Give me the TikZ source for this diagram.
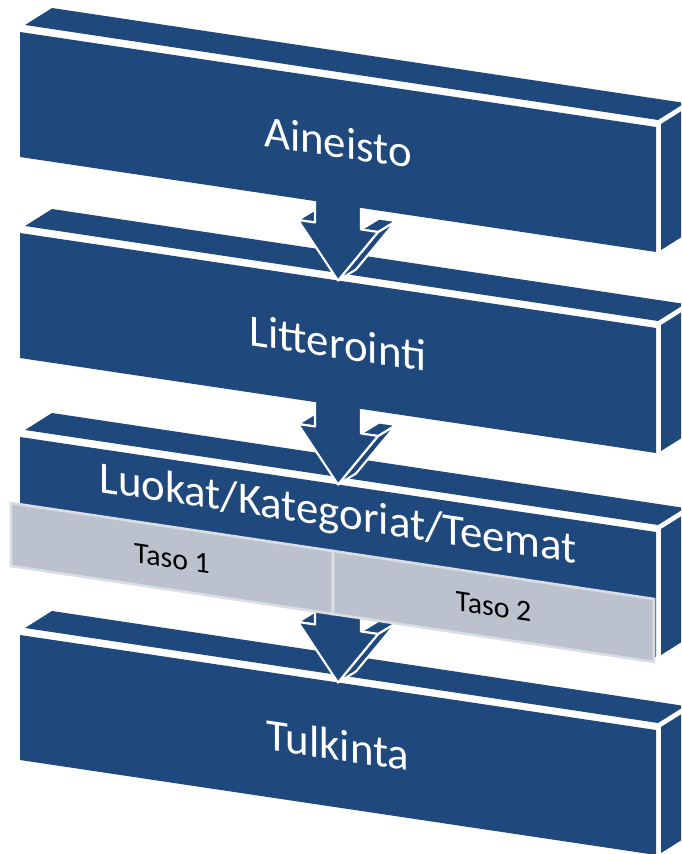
\documentclass[tikz,border=0pt]{standalone}
\usepackage{fontspec}
\setmainfont{Carlito}
\usetikzlibrary{calc}
\definecolor{slabblue}{HTML}{1F497D}
\definecolor{tasofill}{HTML}{BCC2CD}
\definecolor{tasoedge}{HTML}{DADDE3}

% one slab: #1 = how far down, #2 = its name
\newcommand{\slabat}[2]{%
  \begin{scope}[shift={(0,#1)}]
    \fill[slabface] (52,-24) -- (685,71) -- (658,88) -- (25,-7) -- cycle;
    \fill[slabface] (661,92) -- (688,75) -- (688,201) -- (661,218) -- cycle;
    \fill[slabface] (20,0) -- (656,95) -- (656,220) -- (20,125) -- cycle;
    \coordinate (#2) at (338,110);
    \coordinate (#2-top) at (338,47.5);
  \end{scope}}

% block arrow whose tip sits on #1
\newcommand{\arrowto}[1]{%
  \begin{scope}[shift={(#1)}]
    \filldraw[arrowface] (40,-48.5) -- (0,0) -- (18,-11) -- (58,-59.5) -- cycle;
    \filldraw[arrowface] (23,-51) -- (40,-48.5) -- (58,-59.5) -- (41,-62) -- cycle;
    \filldraw[arrowface] (-40,-60.5) -- (-23,-58) -- (-5,-69) -- (-22,-71.5) -- cycle;
    \filldraw[arrowface] (-23,-100) -- (-23,-58) -- (-40,-60.5) -- (0,0)
      -- (40,-48.5) -- (23,-51) -- (23,-100) -- cycle;
  \end{scope}}

\begin{document}
\begin{tikzpicture}[x=0.02cm,y=-0.02cm,
  slabface/.style={fill=slabblue},
  arrowface/.style={fill=slabblue,draw=white,line width=1.2pt,line join=round},
  tasobox/.style={fill=tasofill,draw=tasoedge,line width=1.5pt},
  slablabel/.style={text=white,font=\fontsize{25.5}{30}\selectfont,yslant=-0.1494,inner sep=0pt},
  tasolabel/.style={text=black,font=\fontsize{17}{20}\selectfont,yslant=-0.1494,inner sep=0pt}]
  \clip (0,0) rectangle (681,854);

  \slabat{635}{tulkinta}
  \arrowto{tulkinta-top}
  \slabat{437}{luokat}
  \arrowto{luokat-top}
  \slabat{233}{litterointi}
  \arrowto{litterointi-top}
  \slabat{32}{aineisto}

  % the two levels on the third slab
  \begin{scope}[shift={(0,437)}]
    \filldraw[tasobox] (11,66) -- (333,114) -- (333,177) -- (11,129) -- cycle;
    \filldraw[tasobox] (333,114) -- (654,162) -- (654,225) -- (333,177) -- cycle;
    \node[tasolabel] (taso1) at (172,121.5) {Taso 1};
    \node[tasolabel] (taso2) at (493.5,169.5) {Taso 2};
  \end{scope}

  \node[slablabel] (aineisto-lbl) at (aineisto) {Aineisto};
  \node[slablabel] (litterointi-lbl) at (litterointi) {Litterointi};
  \node[slablabel] (luokat-lbl) at ($(luokat)+(0,-31)$) {Luokat/Kategoriat/Teemat};
  \node[slablabel] (tulkinta-lbl) at (tulkinta) {Tulkinta};
\end{tikzpicture}
\end{document}
